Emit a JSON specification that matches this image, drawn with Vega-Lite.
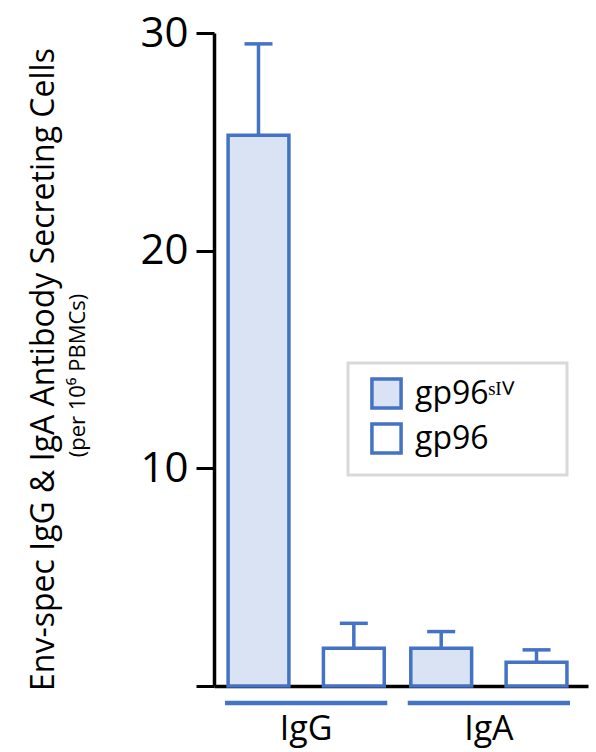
{
  "$schema": "https://vega.github.io/schema/vega-lite/v6.json",
  "width": 374,
  "height": 653,
  "autosize": {"type": "none"},
  "padding": {"left": 214, "top": 33, "right": 8, "bottom": 66},
  "background": "white",
  "title": {
    "text": "Env-spec IgG & IgA Antibody Secreting Cells",
    "orient": "left",
    "anchor": "middle",
    "font": "Open Sans",
    "fontSize": 32,
    "fontWeight": "normal",
    "color": "black",
    "offset": 6,
    "dx": -10
  },
  "datasets": {
    "bars": [
      {"group": "IgG", "series": "gp96ˢᴵⱽ", "value": 25.3, "upper": 29.5},
      {"group": "IgG", "series": "gp96", "value": 1.73, "upper": 2.88},
      {"group": "IgA", "series": "gp96ˢᴵⱽ", "value": 1.73, "upper": 2.5},
      {"group": "IgA", "series": "gp96", "value": 1.09, "upper": 1.66}
    ],
    "groups": [
      {"group": "IgG", "lineTop": -0.68, "lineBottom": -0.89},
      {"group": "IgA", "lineTop": -0.68, "lineBottom": -0.89}
    ]
  },
  "encoding": {
    "x": {
      "field": "group",
      "type": "nominal",
      "sort": ["IgG", "IgA"],
      "scale": {"paddingInner": 0.112, "paddingOuter": 0.0795, "align": 0.38},
      "axis": {
        "title": null,
        "labelAngle": 0,
        "labelFont": "Open Sans",
        "labelFontSize": 34,
        "labelColor": "black",
        "labelPadding": 26,
        "ticks": false,
        "domainColor": "black",
        "domainWidth": 3.5,
        "grid": false
      }
    }
  },
  "layer": [
    {
      "data": {"name": "groups"},
      "mark": {"type": "bar", "color": "#4472C4", "clip": false},
      "encoding": {
        "y": {"field": "lineTop", "type": "quantitative"},
        "y2": {"field": "lineBottom"}
      }
    },
    {
      "data": {"name": "bars"},
      "mark": {"type": "bar", "stroke": "#4472C4", "strokeWidth": 3.5},
      "encoding": {
        "xOffset": {
          "field": "series",
          "type": "nominal",
          "sort": ["gp96ˢᴵⱽ", "gp96"],
          "scale": {"paddingInner": 0.362, "paddingOuter": 0.032}
        },
        "y": {
          "field": "value",
          "type": "quantitative",
          "scale": {"domain": [0, 30], "nice": false, "zero": true},
          "axis": {
            "title": "(per 10⁶ PBMCs)",
            "titleFont": "Open Sans",
            "titleFontSize": 22,
            "titleFontWeight": "normal",
            "titleColor": "black",
            "titlePadding": 50,
            "titleY": 342,
            "values": [0, 10, 20, 30],
            "labelExpr": "datum.value == 0 ? '' : datum.label",
            "labelFont": "Open Sans",
            "labelFontSize": 42,
            "labelColor": "black",
            "labelPadding": 8,
            "tickSize": 18,
            "tickWidth": 3,
            "tickColor": "black",
            "domainColor": "black",
            "domainWidth": 3.5,
            "grid": false
          }
        },
        "fill": {
          "field": "series",
          "type": "nominal",
          "scale": {"domain": ["gp96ˢᴵⱽ", "gp96"], "range": ["#DAE3F3", "#FFFFFF"]},
          "legend": {
            "title": null,
            "orient": "none",
            "legendX": 134,
            "legendY": 330,
            "strokeColor": "#D9D9D9",
            "fillColor": "white",
            "padding": 14,
            "symbolType": "square",
            "symbolSize": 850,
            "symbolStrokeWidth": 3.5,
            "symbolStrokeColor": "#4472C4",
            "symbolOpacity": 1,
            "symbolOffset": 8,
            "labelFont": "Open Sans",
            "labelFontSize": 32,
            "labelColor": "black",
            "labelOffset": 12,
            "labelLimit": 400,
            "labelExpr": "datum.label + '\u2002\u2800'",
            "rowPadding": 0
          }
        }
      }
    },
    {
      "data": {"name": "bars"},
      "mark": {"type": "rule", "color": "#4472C4", "strokeWidth": 3.5},
      "encoding": {
        "xOffset": {"field": "series", "type": "nominal", "sort": ["gp96ˢᴵⱽ", "gp96"]},
        "y": {"field": "value", "type": "quantitative"},
        "y2": {"field": "upper"}
      }
    },
    {
      "data": {"name": "bars"},
      "mark": {"type": "tick", "color": "#4472C4", "thickness": 3.5, "size": 28, "opacity": 1},
      "encoding": {
        "xOffset": {"field": "series", "type": "nominal", "sort": ["gp96ˢᴵⱽ", "gp96"]},
        "y": {"field": "upper", "type": "quantitative"}
      }
    }
  ],
  "config": {
    "view": {"stroke": null},
    "legend": {"strokeWidth": 3}
  }
}
